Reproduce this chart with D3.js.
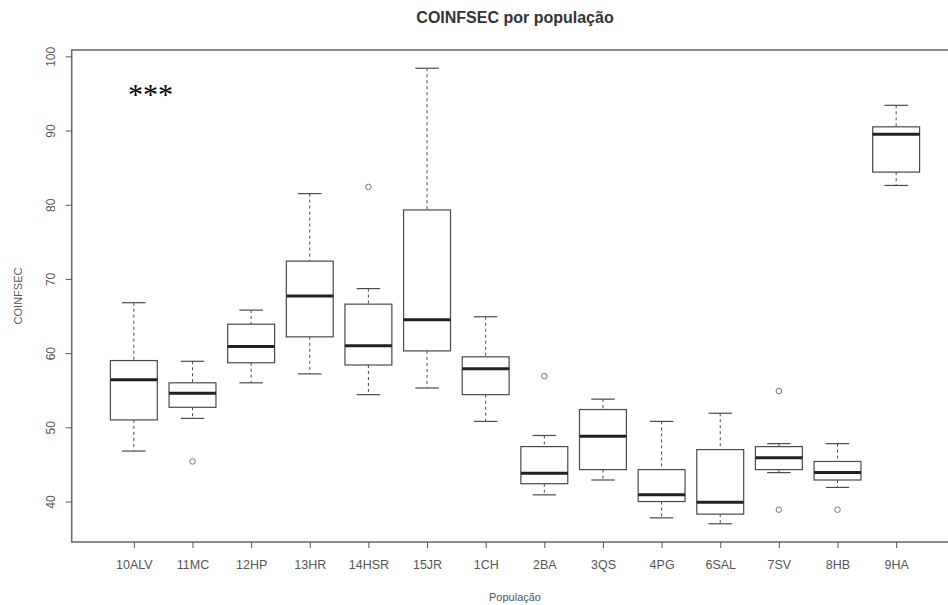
<!DOCTYPE html>
<html>
<head>
<meta charset="utf-8">
<script src="https://cdn.jsdelivr.net/npm/d3@7/dist/d3.min.js"></script>
<style>
  html, body { margin: 0; padding: 0; background: #fff; }
  svg { display: block; font-family: "Liberation Sans", Arial, sans-serif; }
</style>
</head>
<body>
<svg id="chart" width="948" height="605"></svg>
<script>
// Populations (x categories, in plotting order)
const populations = ["10ALV", "11MC", "12HP", "13HR", "14HSR", "15JR", "1CH", "2BA", "3QS", "4PG", "6SAL", "7SV", "8HB", "9HA"];

// Five-number summaries of COINFSEC per population
const lowerWhisker = [46.8, 51.2, 56.0, 57.2, 54.4, 55.3, 50.8, 40.9, 42.9, 37.8, 37.0, 43.9, 41.9, 82.6];
const q1           = [51.0, 52.7, 58.7, 62.2, 58.4, 60.3, 54.4, 42.4, 44.3, 40.0, 38.3, 44.3, 42.9, 84.4];
const median       = [56.4, 54.6, 60.9, 67.7, 61.0, 64.5, 57.9, 43.8, 48.8, 40.9, 39.9, 45.9, 43.9, 89.5];
const q3           = [59.0, 56.0, 63.9, 72.4, 66.6, 79.3, 59.5, 47.4, 52.4, 44.3, 47.0, 47.4, 45.4, 90.5];
const upperWhisker = [66.8, 58.9, 65.8, 81.5, 68.7, 98.4, 64.9, 48.9, 53.8, 50.8, 51.9, 47.8, 47.8, 93.4];

// Outlying observations: [population, value]
const outliers = [["11MC", 45.4], ["14HSR", 82.4], ["2BA", 56.9], ["7SV", 54.9], ["7SV", 38.9], ["8HB", 38.9]];

// Axis ticks and labels
const yTicks = [40, 50, 60, 70, 80, 90, 100];
const chartTitle = "COINFSEC por população";
const xTitle = "População";
const yTitle = "COINFSEC";
const annotation = "***";

const svg = d3.select("#chart");

const plot = { left: 71.7, right: 958.3, top: 50, bottom: 542 };

// x: category index 1..n, padded like a base-graphics boxplot
const n = populations.length;
const xPad = 0.04 * n;
const x = d3.scaleLinear()
  .domain([0.5 - xPad, n + 0.5 + xPad])
  .range([plot.left, plot.right]);
const xPos = name => x(populations.indexOf(name) + 1);

// y: data range padded by 4%
const allVals = lowerWhisker.concat(upperWhisker, outliers.map(d => d[1]));
const [vMin, vMax] = d3.extent(allVals);
const vPad = 0.04 * (vMax - vMin);
const y = d3.scaleLinear()
  .domain([vMin - vPad, vMax + vPad])
  .range([plot.bottom, plot.top]);

const boxW = x(1.4) - x(1.0); // half of a 0.8-unit box
const capW = boxW / 2;
const stroke = "#4a4a4a";

// Plot frame
svg.append("rect")
  .attr("x", plot.left).attr("y", plot.top)
  .attr("width", plot.right - plot.left).attr("height", plot.bottom - plot.top)
  .attr("fill", "none").attr("stroke", "#6e6e6e").attr("stroke-width", 1.6);

// Boxes
const stats = populations.map((p, i) => ({
  name: p, lo: lowerWhisker[i], q1: q1[i], med: median[i], q3: q3[i], hi: upperWhisker[i]
}));

const g = svg.append("g").selectAll("g").data(stats).join("g")
  .attr("transform", d => `translate(${xPos(d.name)},0)`);

// dashed whiskers
g.append("line").attr("x1", 0).attr("x2", 0)
  .attr("y1", d => y(d.hi)).attr("y2", d => y(d.q3))
  .attr("stroke", stroke).attr("stroke-dasharray", "3,3").attr("stroke-width", 1);
g.append("line").attr("x1", 0).attr("x2", 0)
  .attr("y1", d => y(d.q1)).attr("y2", d => y(d.lo))
  .attr("stroke", stroke).attr("stroke-dasharray", "3,3").attr("stroke-width", 1);
// staples
g.append("line").attr("x1", -capW).attr("x2", capW)
  .attr("y1", d => y(d.hi)).attr("y2", d => y(d.hi))
  .attr("stroke", stroke).attr("stroke-width", 1.2);
g.append("line").attr("x1", -capW).attr("x2", capW)
  .attr("y1", d => y(d.lo)).attr("y2", d => y(d.lo))
  .attr("stroke", stroke).attr("stroke-width", 1.2);
// box
g.append("rect").attr("x", -boxW).attr("width", 2 * boxW)
  .attr("y", d => y(d.q3)).attr("height", d => y(d.q1) - y(d.q3))
  .attr("fill", "#fff").attr("stroke", stroke).attr("stroke-width", 1.2);
// median
g.append("line").attr("x1", -boxW).attr("x2", boxW)
  .attr("y1", d => y(d.med)).attr("y2", d => y(d.med))
  .attr("stroke", "#222").attr("stroke-width", 3);

// Outliers
svg.append("g").selectAll("circle").data(outliers).join("circle")
  .attr("cx", d => xPos(d[0])).attr("cy", d => y(d[1])).attr("r", 2.8)
  .attr("fill", "none").attr("stroke", "#777").attr("stroke-width", 1);

// Left axis with rotated labels
const yAxis = d3.axisLeft(y).tickValues(yTicks).tickSize(6).tickSizeOuter(0);
const ya = svg.append("g").attr("transform", `translate(${plot.left},0)`).call(yAxis);
ya.select(".domain").remove();
ya.selectAll(".tick line").attr("stroke", "#555");
ya.selectAll(".tick text")
  .attr("fill", "#555").attr("font-size", 12)
  .attr("text-anchor", "middle").attr("dominant-baseline", "middle")
  .attr("x", 0).attr("y", 0).attr("dy", null)
  .attr("transform", "translate(-20,0) rotate(-90)");

// Bottom axis
const xAxis = d3.axisBottom(x)
  .tickValues(d3.range(1, n + 1))
  .tickFormat(i => populations[i - 1])
  .tickSize(6).tickSizeOuter(0).tickPadding(12);
const xa = svg.append("g").attr("transform", `translate(0,${plot.bottom})`).call(xAxis);
xa.select(".domain").remove();
xa.selectAll(".tick line").attr("stroke", "#555");
xa.selectAll(".tick text").attr("fill", "#555").attr("font-size", 12.5);

// Titles
svg.append("text").attr("x", (plot.left + plot.right) / 2).attr("y", 23)
  .attr("text-anchor", "middle").attr("font-weight", "bold").attr("font-size", 16)
  .attr("fill", "#333").text(chartTitle);
svg.append("text").attr("x", (plot.left + plot.right) / 2).attr("y", 601)
  .attr("text-anchor", "middle").attr("font-size", 11).attr("fill", "#555").text(xTitle);
svg.append("text").attr("transform", `translate(22,${(plot.top + plot.bottom) / 2}) rotate(-90)`)
  .attr("text-anchor", "middle").attr("font-size", 11).attr("fill", "#555").text(yTitle);

// Significance marker
svg.append("text").attr("x", 128).attr("y", 104)
  .attr("font-family", "'Liberation Serif', 'Times New Roman', serif")
  .attr("font-size", 30).attr("fill", "#000").text(annotation);
</script>
</body>
</html>
